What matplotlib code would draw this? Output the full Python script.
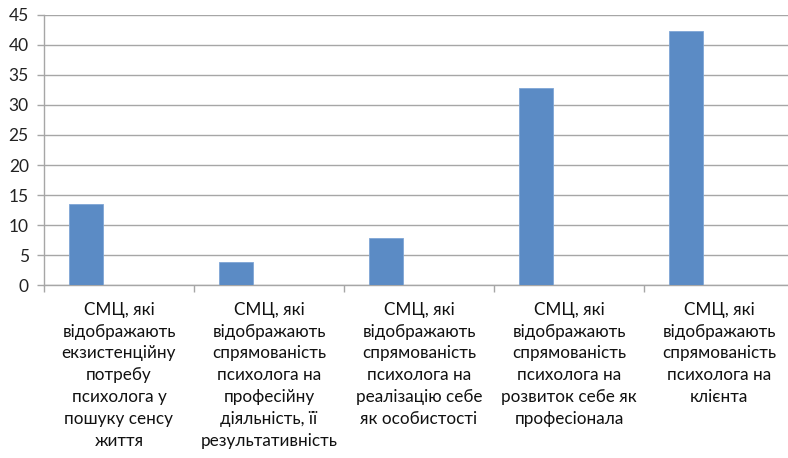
import numpy as np
import matplotlib.pyplot as plt

plt.rcParams['font.family'] = ['Lato', 'DejaVu Sans']

# categories and values
categories = [
    "СМЦ, які\nвідображають\nекзистенційну\nпотребу\nпсихолога у\nпошуку сенсу\nжиття",
    "СМЦ, які\nвідображають\nспрямованість\nпсихолога на\nпрофесійну\nдіяльність, її\nрезультативність",
    "СМЦ, які\nвідображають\nспрямованість\nпсихолога на\nреалізацію себе\nяк особистості",
    "СМЦ, які\nвідображають\nспрямованість\nпсихолога на\nрозвиток себе як\nпрофесіонала",
    "СМЦ, які\nвідображають\nспрямованість\nпсихолога на\nклієнта",
]
values = [13.5, 3.8, 7.8, 32.8, 42.3]
y_ticks = [0, 5, 10, 15, 20, 25, 30, 35, 40, 45]

fig = plt.figure(figsize=(7.88, 4.58), dpi=100)
ax = fig.add_axes([44 / 788, 173 / 458, 750 / 788, 270 / 458])

x = np.arange(len(categories))
ax.bar(x - 0.22, values, width=0.227, color='#5B8BC5', edgecolor='#7FA6D6',
       linewidth=0.6, zorder=3)

ax.set_xlim(-0.5, len(categories) - 0.5)
ax.set_ylim(0, 45)
ax.set_yticks(y_ticks)
ax.set_yticklabels([str(v) for v in y_ticks], fontsize=12.5, color='#222222')
ax.yaxis.grid(True, color='#A6A6A6', linewidth=1.0, zorder=0)

ax.set_xticks(x)
ax.set_xticklabels(categories, fontsize=12.3, color='#111111', linespacing=1.45,
                   va='top')
ax.set_xticks(np.arange(len(categories) + 1) - 0.5, minor=True)
ax.tick_params(axis='x', which='major', length=0, pad=12)
ax.tick_params(axis='x', which='minor', length=5, color='#A6A6A6', width=1)
ax.tick_params(axis='y', length=5, color='#A6A6A6', width=1, pad=6)

for s in ['top', 'right']:
    ax.spines[s].set_visible(False)
for s in ['left', 'bottom']:
    ax.spines[s].set_color('#A6A6A6')
    ax.spines[s].set_linewidth(1.0)

fig.savefig('out.png', dpi=100)
